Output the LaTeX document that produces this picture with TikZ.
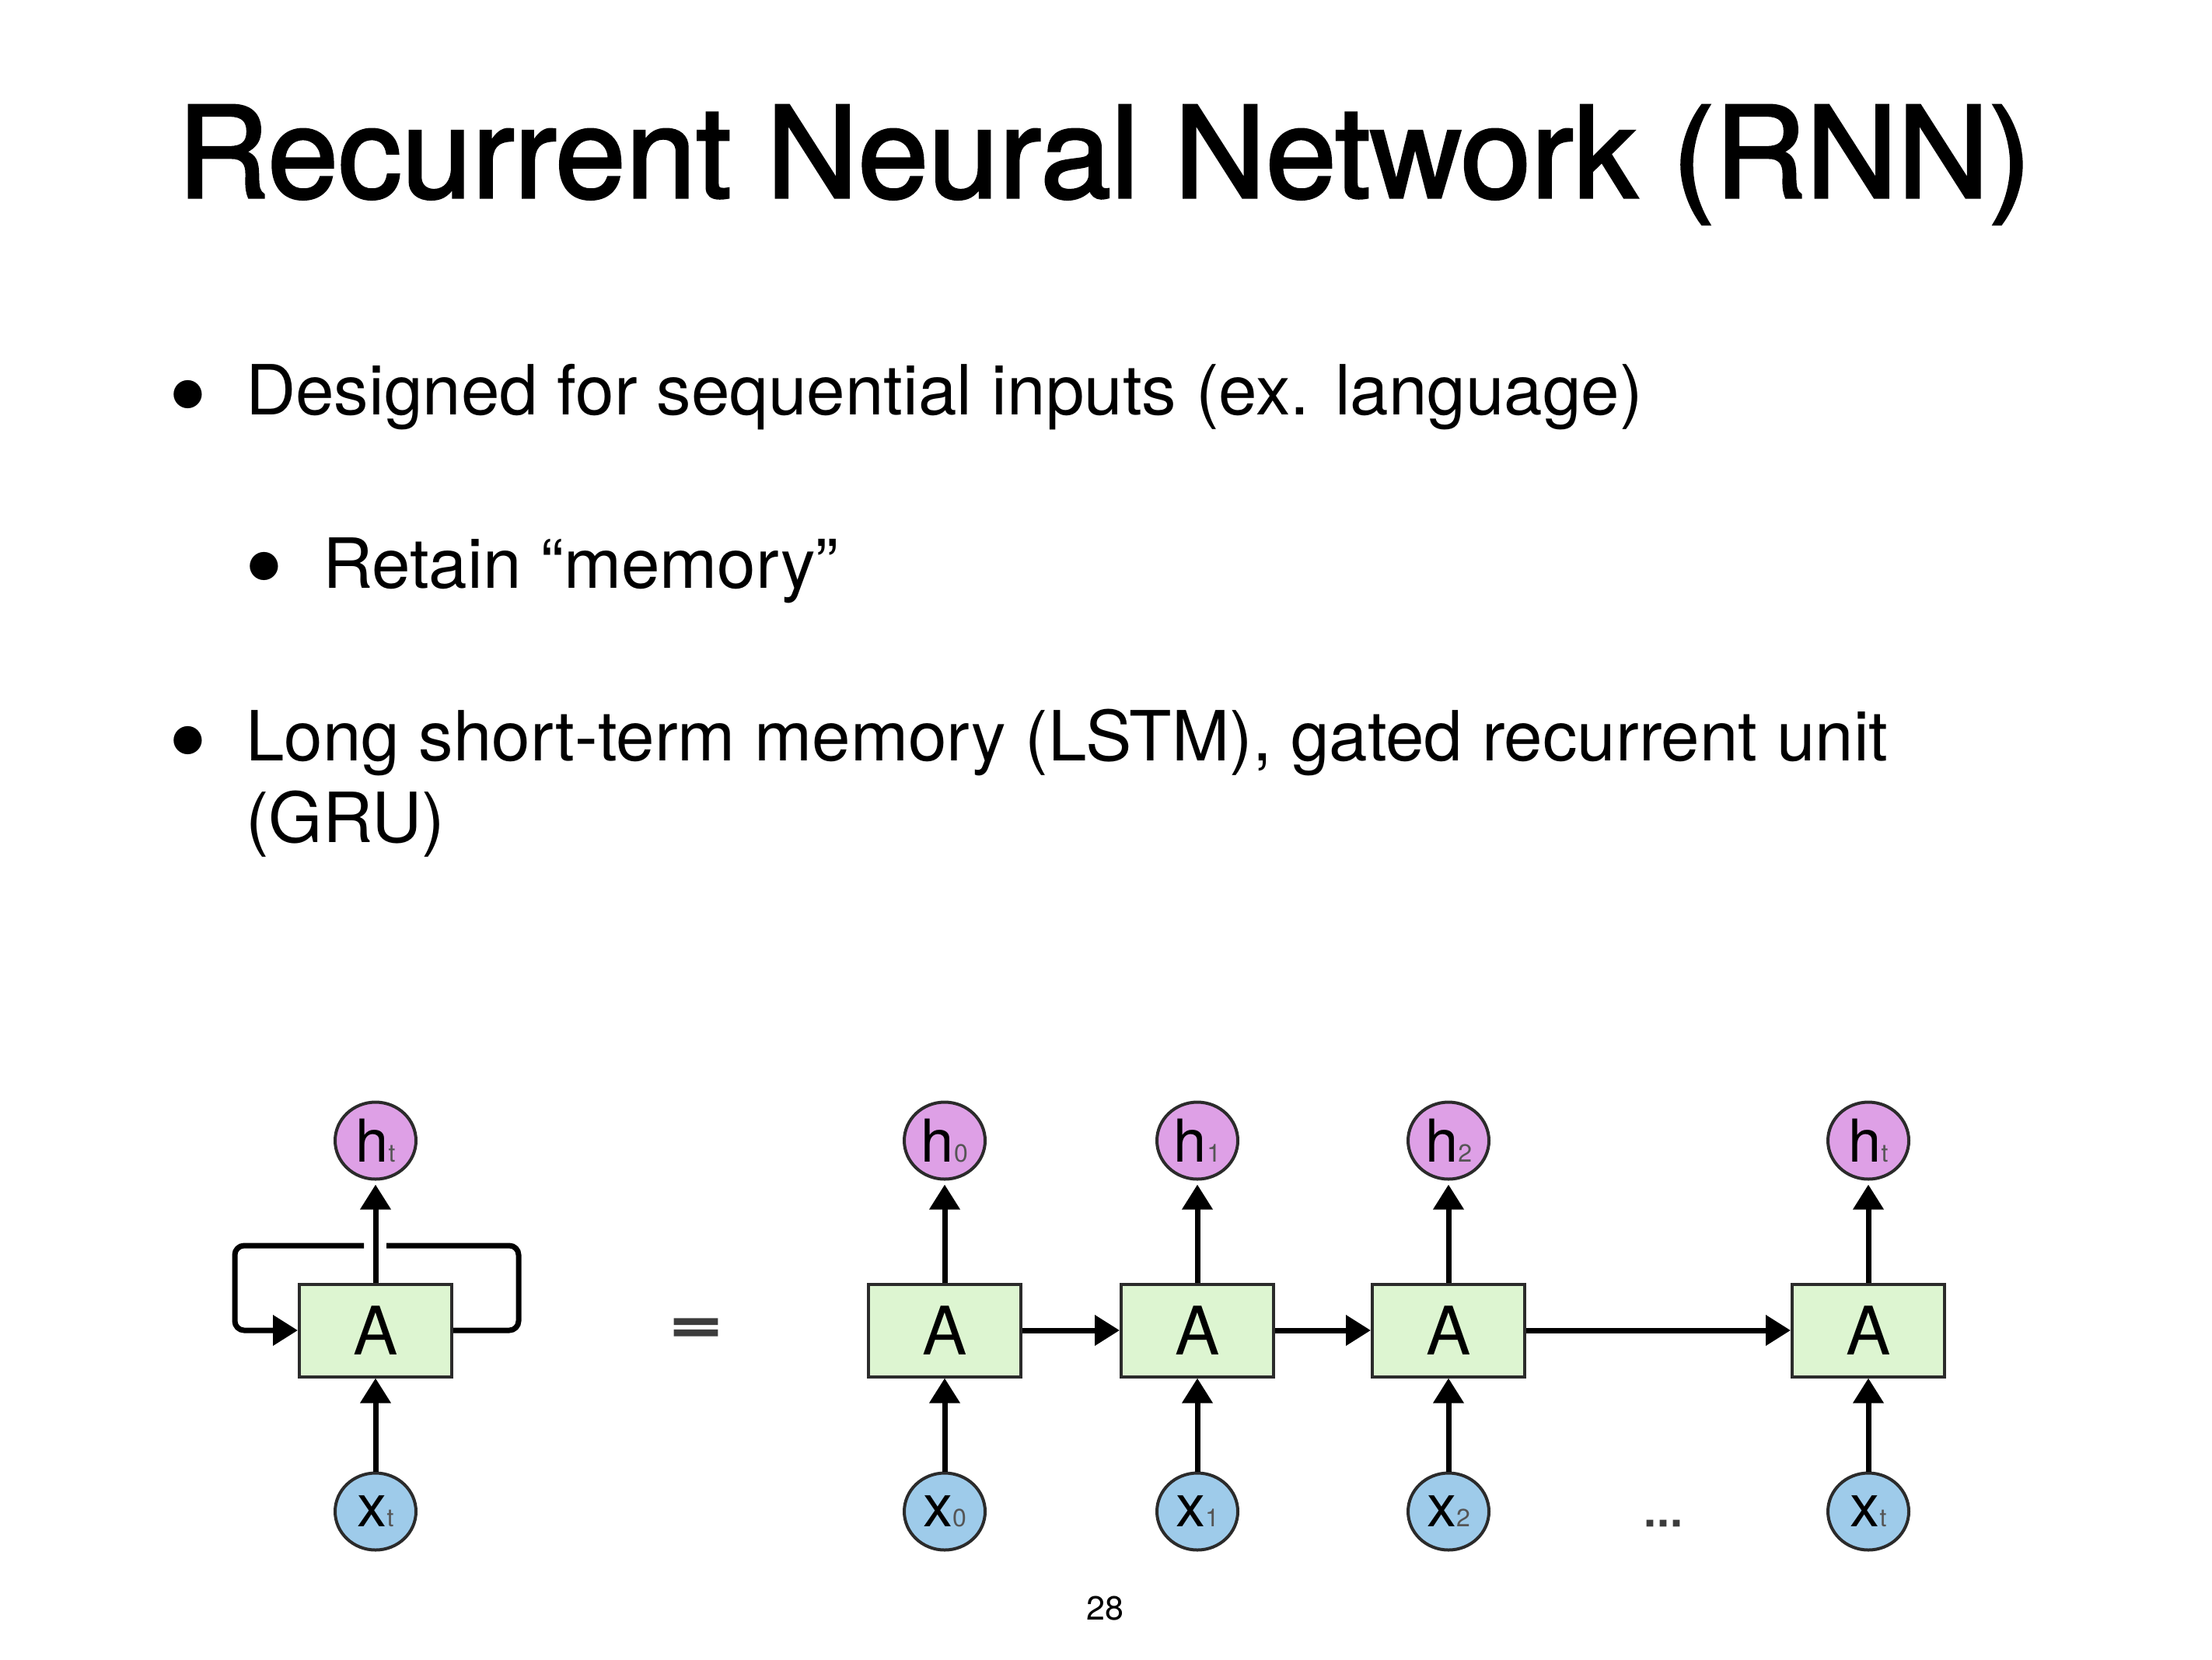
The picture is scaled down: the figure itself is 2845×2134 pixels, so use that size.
\documentclass[tikz,border=0pt]{standalone}
\usepackage{fontspec}
\setmainfont{TeX Gyre Heros}
\newfontfamily\titlefont[FakeBold=2]{TeX Gyre Heros}
\newfontfamily\signfont[FakeBold=4]{TeX Gyre Heros}
\usetikzlibrary{arrows.meta,shapes.geometric}

\definecolor{cellgreen}{HTML}{DDF5D1}
\definecolor{hpink}{HTML}{DEA0E6}
\definecolor{xblue}{HTML}{9ECBEA}
\definecolor{rim}{HTML}{2B2B2B}
\definecolor{subgray}{HTML}{555555}
\definecolor{signgray}{HTML}{3C3C3C}

% label with a small subscript sitting on the baseline
\newcommand{\lbl}[2]{#1{\fontsize{32}{32}\selectfont\color{subgray}#2}}

\tikzset{
  cell/.style={draw=rim, line width=4pt, fill=cellgreen, minimum width=196pt,
    minimum height=119pt, inner sep=0pt, font=\fontsize{86}{86}\selectfont},
  state/.style={ellipse, draw=rim, line width=4pt, minimum width=104pt,
    minimum height=99pt, inner sep=0pt, font=\fontsize{76}{76}\selectfont},
  hout/.style={state, fill=hpink},
  xin/.style={state, fill=xblue},
  flow/.style={line width=7pt, -{Triangle[length=32pt,width=38pt]}},
  body/.style={anchor=base west, inner sep=0pt, font=\fontsize{89}{89}\selectfont},
  bulletmark/.style={anchor=base, inner sep=0pt, font=\fontsize{145}{145}\selectfont},
}

\begin{document}
\begin{tikzpicture}[x=1pt, y=-1pt]
  \fill[white] (0,0) rectangle (2845,2134);
  \useasboundingbox (0,0) rectangle (2845,2134);

  % heading and bullet list
  \node[anchor=base west, inner sep=0pt, font=\titlefont\fontsize{163}{163}\selectfont]
    (title) at (228,254) {Recurrent Neural Network (RNN)};

  \node[bulletmark] (b1) at (242,557) {•};
  \node[body] (t1) at (316,533) {Designed for sequential inputs (ex. language)};
  \node[bulletmark] (b2) at (340,778) {•};
  \node[body] (t2) at (415,756) {Retain “memory”};
  \node[bulletmark] (b3) at (242,1002) {•};
  \node[body] (t3) at (316,978) {Long short-term memory (LSTM), gated recurrent unit};
  \node[body] (t4) at (316,1083) {(GRU)};

  % folded network
  \node[cell] (AL) at (483,1711) {A};
  \node[hout] (hL) at (483,1467) {\lbl{h}{t}};
  \node[xin]  (xL) at (483,1944) {\lbl{x}{t}};

  \draw[flow, shorten >=5pt] (AL.north) -- (hL.south);
  \draw[flow] (xL.north) -- (AL.south);

  \coordinate (loopR) at (667,1602);
  \coordinate (loopL) at (302,1602);
  \coordinate (gapR)  at (497,1602);
  \coordinate (gapL)  at (468,1602);
  \draw[line width=7pt, rounded corners=12pt] (AL.east) -| (loopR) -- (gapR);
  \draw[flow, rounded corners=12pt] (gapL) -- (loopL) |- (AL.west);

  \node[font=\signfont\fontsize{80}{80}\selectfont, text=signgray, inner sep=0pt]
    (eq) at (895,1712) {\scalebox{1.45}[1]{=}};

  % unrolled network
  \foreach \i/\cx/\s in {0/1215/0, 1/1540/1, 2/1863/2, t/2403/t}{
    \node[cell] (A\i) at (\cx,1711) {A};
    \node[hout] (h\i) at (\cx,1467) {\lbl{h}{\s}};
    \node[xin]  (x\i) at (\cx,1944) {\lbl{x}{\s}};
    \draw[flow, shorten >=5pt] (A\i.north) -- (h\i.south);
    \draw[flow] (x\i.north) -- (A\i.south);
  }
  \draw[flow] (A0.east) -- (A1.west);
  \draw[flow] (A1.east) -- (A2.west);
  \draw[flow] (A2.east) -- (At.west);

  \node[font=\signfont\fontsize{61}{61}\selectfont, text=signgray, inner sep=0pt]
    (ell) at (2139,1959) {...};

  % page number
  \node[anchor=base, inner sep=0pt, font=\fontsize{43}{43}\selectfont]
    (pg) at (1421,2083) {28};
\end{tikzpicture}
\end{document}
